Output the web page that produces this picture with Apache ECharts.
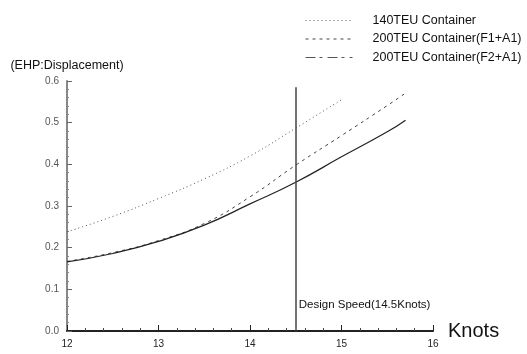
<!DOCTYPE html>
<html>
<head>
<meta charset="utf-8">
<script src="https://cdn.jsdelivr.net/npm/echarts@6/dist/echarts.min.js"></script>
<style>html,body{margin:0;padding:0;background:#fff}#c{width:527px;height:354px}</style>
</head>
<body>
<div id="c"></div>
<script>
// Data
var knots200 = [12, 12.5, 13, 13.5, 14, 14.5, 15, 15.5, 15.7];
var f2a1 = [0.166, 0.186, 0.215, 0.254, 0.305, 0.357, 0.418, 0.478, 0.506];
var f1a1 = [0.167, 0.188, 0.217, 0.258, 0.322, 0.398, 0.469, 0.541, 0.571];
var knots140 = [12, 12.5, 13, 13.5, 14, 14.5, 15];
var teu140 = [0.238, 0.275, 0.318, 0.365, 0.420, 0.487, 0.555];
var seriesNames = ['140TEU Container', '200TEU Container(F1+A1)', '200TEU Container(F2+A1)'];
var designSpeed = 14.5;
var designLabel = 'Design Speed(14.5Knots)';
var xTicks = [12, 13, 14, 15, 16];
var yTicks = [0.0, 0.1, 0.2, 0.3, 0.4, 0.5, 0.6];

function pairs(xs, ys) { return xs.map(function (x, i) { return [x, ys[i]]; }); }

var font = 'Liberation Sans, Arial, sans-serif';
var hidden = { opacity: 0, color: 'transparent', borderWidth: 0 };
var chart = echarts.init(document.getElementById('c'), null, { renderer: 'canvas' });
chart.setOption({
  animation: false,
  backgroundColor: '#fff',
  textStyle: { fontFamily: font },
  grid: { left: 67, right: 94, top: 81, bottom: 23 },
  legend: {
    orient: 'vertical', left: 300, top: 9, itemWidth: 47, itemHeight: 12, itemGap: 5.5,
    itemStyle: hidden,
    textStyle: { fontSize: 12.5, color: '#111', fontFamily: font, padding: [0, 0, 0, 15] },
    data: [
      { name: seriesNames[0], itemStyle: hidden, lineStyle: { type: [1, 3], color: '#555', width: 1 } },
      { name: seriesNames[1], itemStyle: hidden, lineStyle: { type: [3, 4], color: '#444', width: 1 } },
      { name: seriesNames[2], itemStyle: hidden, lineStyle: { type: [10, 4, 3, 5], color: '#555', width: 1 } }
    ]
  },
  xAxis: {
    type: 'value', min: xTicks[0], max: xTicks[xTicks.length - 1], interval: 1,
    name: 'Knots', nameLocation: 'end', nameGap: 15,
    nameTextStyle: { fontSize: 20, color: '#111', fontFamily: font, padding: [12, 0, 0, 0] },
    axisLine: { show: true, onZero: false, lineStyle: { color: '#222', width: 2 } },
    axisTick: { show: true, inside: true, length: 6, lineStyle: { color: '#222' } },
    minorTick: { show: true, splitNumber: 5, length: 3, lineStyle: { color: '#444' } },
    axisLabel: { fontSize: 10, color: '#222', margin: 8, fontFamily: font },
    splitLine: { show: false }
  },
  yAxis: {
    type: 'value', min: yTicks[0], max: yTicks[yTicks.length - 1], interval: 0.1,
    name: '(EHP:Displacement)', nameLocation: 'end', nameGap: 9,
    nameTextStyle: { fontSize: 12.5, color: '#111', fontFamily: font },
    axisLine: { show: true, onZero: false, lineStyle: { color: '#888', width: 2 } },
    axisTick: { show: true, inside: true, length: 5, lineStyle: { color: '#666' } },
    minorTick: { show: true, splitNumber: 5, length: 2, lineStyle: { color: '#888' } },
    axisLabel: { fontSize: 10, color: '#555', margin: 8, fontFamily: font,
      formatter: function (v) { return v.toFixed(1); } },
    splitLine: { show: false }
  },
  series: [
    { name: seriesNames[0], type: 'line', smooth: true, symbol: 'none',
      itemStyle: { color: '#555' },
      lineStyle: { color: '#555', width: 1, type: [1, 3] },
      data: pairs(knots140, teu140) },
    { name: seriesNames[1], type: 'line', smooth: true, symbol: 'none',
      itemStyle: { color: '#444' },
      lineStyle: { color: '#444', width: 1, type: [3, 4] },
      data: pairs(knots200, f1a1) },
    { name: seriesNames[2], type: 'line', smooth: true, symbol: 'none',
      itemStyle: { color: '#222' },
      lineStyle: { color: '#222', width: 1.2, type: 'solid' },
      data: pairs(knots200, f2a1),
      markLine: {
        silent: true, symbol: 'none', animation: false,
        lineStyle: { color: '#444', width: 1.5, type: 'solid' },
        label: { show: false },
        data: [[{ coord: [designSpeed, 0] }, { coord: [designSpeed, 0.585] }]]
      },
      markPoint: {
        silent: true, symbol: 'circle', symbolSize: 0,
        label: { show: true, position: 'right', distance: 3, formatter: designLabel,
          fontSize: 11.5, color: '#111', fontFamily: font },
        data: [{ coord: [designSpeed, 0.063] }]
      }
    }
  ]
});
</script>
</body>
</html>
